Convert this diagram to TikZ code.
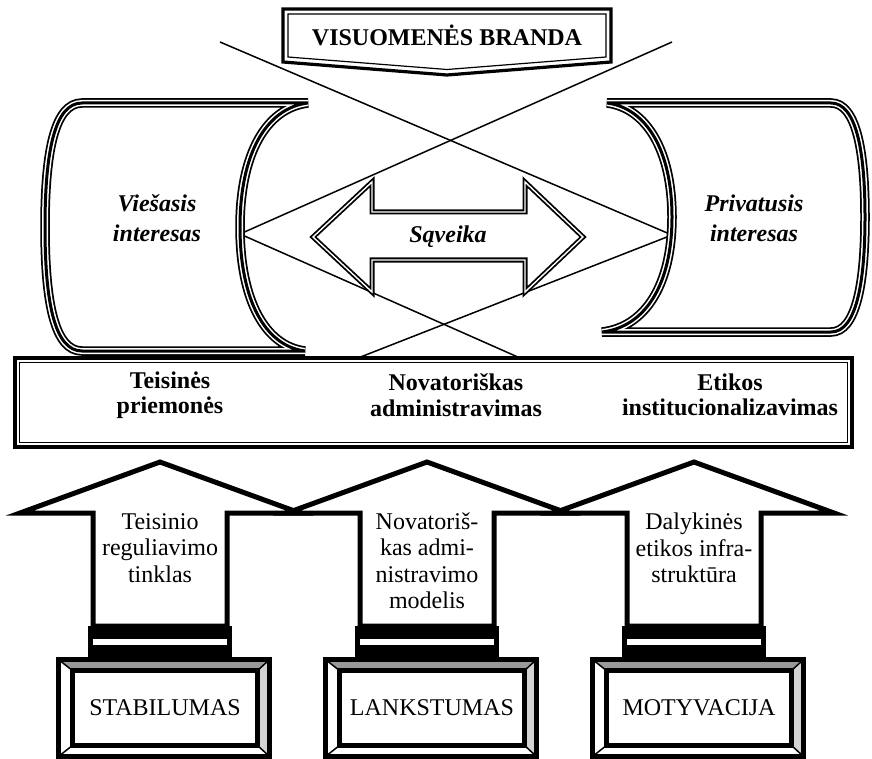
\documentclass[tikz,border=0pt]{standalone}
\usepackage{fontspec}
\setmainfont{Liberation Serif}
\usetikzlibrary{calc}
\definecolor{bevelTop}{RGB}{153,153,153}
\definecolor{bevelSide}{RGB}{211,211,211}
\tikzstyle{title}=[font=\fontsize{24}{26}\selectfont\bfseries, align=center]
\tikzstyle{interest}=[font=\fontsize{24}{30}\selectfont\bfseries\itshape, align=center]
\tikzstyle{means}=[font=\fontsize{24}{25.5}\selectfont\bfseries, align=center]
\tikzstyle{plain}=[font=\fontsize{24}{26.5}\selectfont, align=center]
\tikzstyle{tube}=[
  preaction={fill=white},
  preaction={draw=black, line width=9.5},
  draw=white,
  line width=6,
  postaction={draw=black, line width=3}
]
\tikzstyle{cross}=[line width=1.5]

\begin{document}
\begin{tikzpicture}[x=1pt, y=-1pt]
          \useasboundingbox (0,0) rectangle (872,759);
          \def \tipY {462}
          \def \barbY {513}
          \def \barbOff {140}
          \def \shaftOff {67}
          \def \shaftY {626}

          % crossing lines
          \coordinate (tl) at (220,42);
          \coordinate (tr) at (672,42);
          \coordinate (lv) at (240,234);
          \coordinate (rv) at (672,235);
          \coordinate (bl) at (358,358);
          \coordinate (br) at (520,358);
          \draw[cross] (tl) -- (rv) -- (bl);
          \draw[cross] (tr) -- (lv) -- (br);

          % top banner
          \draw[line width=3.2, fill=white] (283,9) -- (611,9) -- (611,62) -- (447,75) -- (283,62) -- cycle;
          \draw[line width=1.2] (288,14) -- (606,14) -- (606,57) -- (447,69.5) -- (288,57) -- cycle;
          \node[title] (brand) at (447,35) {VISUOMENĖS BRANDA};

          % the two interests
          \draw[tube] (308,103) -- (82,103) .. controls (55,103) and (45,150) .. (45,227)
            .. controls (45,304) and (55,351) .. (82,351) -- (305,351)
            .. controls (265,346) and (240,300) .. (240,227)
            .. controls (240,154) and (266,108) .. cycle;
          \draw[tube] (607,103) -- (831,103) .. controls (856,103) and (865,150) .. (865,217)
            .. controls (865,284) and (856,332) .. (831,332) -- (602,332)
            .. controls (645,327) and (672,285) .. (672,217)
            .. controls (672,150) and (646,108) .. cycle;
          \node[interest] (pub) at (157,218) {Viešasis\\interesas};
          \node[interest] (priv) at (754,218) {Privatusis\\interesas};

          % interaction arrow
          \draw[line width=1.8, double, double distance=1.4, fill=white]
            (313,237) -- (372,182) -- (372,212) -- (525,212) -- (525,182) -- (583,237)
            -- (525,292) -- (525,260) -- (372,260) -- (372,292) -- cycle;
          \node[interest] (saveika) at (448,237) {Sąveika};

          % means band
          \draw[line width=3.2, fill=white] (15,358) rectangle (852,447);
          \draw[line width=1.2] (19.5,362.5) rectangle (847.5,442.5);
          \node[means] (legal) at (170,395) {Teisinės\\priemonės};
          \node[means] (innov) at (456,395) {Novatoriškas\\administravimas};
          \node[means] (ethic) at (730,395) {Etikos\\institucionalizavimas};

          % block arrows with stands
          \foreach \cx in {160,427,694}{
            \fill (\cx-72,\shaftY) rectangle (\cx+72,660);
            \fill[white] (\cx-67,639) rectangle (\cx+67,645);
            \draw[line width=5, fill=white] (\cx,\tipY) -- (\cx+\barbOff,\barbY) -- (\cx+\shaftOff,\barbY)
              -- (\cx+\shaftOff,\shaftY) -- (\cx-\shaftOff,\shaftY) -- (\cx-\shaftOff,\barbY)
              -- (\cx-\barbOff,\barbY) -- cycle;
          }
          \node[plain] (net) at (160,548) {Teisinio\\reguliavimo\\tinklas};
          \node[plain] (model) at (427,561) {Novatoriš-\\kas admi-\\nistravimo\\modelis};
          \node[plain] (infra) at (694,548) {Dalykinės\\etikos infra-\\struktūra};

          % bevelled bases
          \foreach \cx/\word/\nm in {160/STABILUMAS/stab,427/LANKSTUMAS/flex,694/MOTYVACIJA/motiv}{
            \node[minimum width=210, minimum height=96, inner sep=0] (o\nm) at (\cx+4,708) {};
            \node[plain, minimum width=184, minimum height=74, inner sep=0] (\nm) at (\cx+5,708) {\word};
            \fill[bevelTop] (o\nm.north west) -- (o\nm.north east) -- (\nm.north east) -- (\nm.north west) -- cycle;
            \fill[bevelSide] (o\nm.north east) -- (o\nm.south east) -- (\nm.south east) -- (\nm.north east) -- cycle;
            \draw[line width=1.5] (o\nm.north west) -- (\nm.north west);
            \draw[line width=1.5] (o\nm.north east) -- (\nm.north east);
            \draw[line width=1.5] (o\nm.south west) -- (\nm.south west);
            \draw[line width=1.5] (o\nm.south east) -- (\nm.south east);
            \draw[line width=5] (o\nm.north west) rectangle (o\nm.south east);
            \draw[line width=5] (\nm.north west) rectangle (\nm.south east);
          }
        \end{tikzpicture}
\end{document}
